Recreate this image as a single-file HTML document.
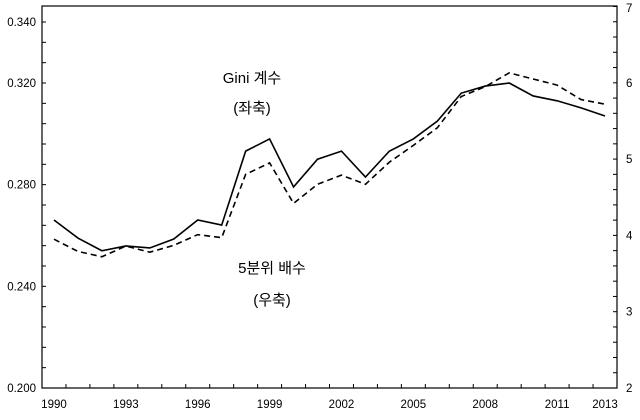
<!DOCTYPE html>
<html><head><meta charset="utf-8"><style>
body{margin:0;background:#fff}
svg text{font-family:"Liberation Sans","Noto Sans CJK KR",sans-serif;fill:#000}
</style></head><body>
<svg id="chart" width="640" height="415"></svg>
<script>
const years=[1990,1991,1992,1993,1994,1995,1996,1997,1998,1999,2000,2001,2002,2003,2004,2005,2006,2007,2008,2009,2010,2011,2012,2013];
const gini=[0.2661,0.259,0.254,0.2559,0.2551,0.2586,0.2661,0.2641,0.2932,0.298,0.2791,0.290,0.2932,0.283,0.2932,0.298,0.305,0.316,0.3188,0.320,0.3149,0.313,0.3102,0.307];
const quintile=[3.95,3.79,3.72,3.86,3.78,3.87,4.01,3.97,4.80,4.95,4.42,4.67,4.79,4.67,4.96,5.18,5.41,5.82,5.95,6.13,6.05,5.97,5.78,5.72];
const leftTicks=[0.200,0.240,0.280,0.320,0.344];
const leftLabels=["0.200","0.240","0.280","0.320","0.340"];
const rightTicks=[2,3,4,5,6,7];
const xLabelYears=[1990,1993,1996,1999,2002,2005,2008,2011,2013];

const svg=document.getElementById('chart');
const NS='http://www.w3.org/2000/svg';
const L=42,R=617,T=6,B=388;
const step=(R-L)/years.length;
const x=i=>L+step*(i+0.5);
const yL=v=>B-(v-0.2)*2541.7;
const yR=v=>B-(v-2)*76.3;
function mk(tag,attrs,parent){const e=document.createElementNS(NS,tag);for(const k in attrs)e.setAttribute(k,attrs[k]);(parent||svg).appendChild(e);return e;}

const frame=mk('rect',{x:L,y:T,width:R-L,height:B-T,fill:'none',stroke:'#000','stroke-width':1.2});



// left minor ticks every 0.008
for(let v=0.2;v<=0.345;v+=0.008){const t=mk('line',{x1:L,x2:L+4,y1:yL(v),y2:yL(v),stroke:'#000'});

}
leftTicks.forEach((v,i)=>{const t=mk('text',{x:L-6,y:yL(v)+4,'text-anchor':'end','font-size':11.5});t.textContent=leftLabels[i];

});
// right ticks every 0.2
for(let v=2;v<=7.01;v+=0.2){const t=mk('line',{x1:R-4,x2:R,y1:yR(v),y2:yR(v),stroke:'#000'});

}
rightTicks.forEach(v=>{const t=mk('text',{x:R+9,y:Math.max(yR(v)+4,12),'font-size':11.5});t.textContent=v;

});
// x ticks
for(let i=1;i<years.length;i++){const t=mk('line',{x1:L+step*i,x2:L+step*i,y1:B,y2:B-4,stroke:'#000'});

}
xLabelYears.forEach(yr=>{const i=years.indexOf(yr);const t=mk('text',{x:x(i),y:B+20,'text-anchor':'middle','font-size':11.5});t.textContent=yr;

});

const p1=mk('polyline',{points:gini.map((v,i)=>x(i)+','+yL(v)).join(' '),fill:'none',stroke:'#000','stroke-width':1.6});


const p2=mk('polyline',{points:quintile.map((v,i)=>x(i)+','+yR(v)).join(' '),fill:'none',stroke:'#000','stroke-width':1.6,'stroke-dasharray':'6,4'});



[['Gini 계수',252,83,'gini-annotation'],['(좌축)',252,113,'gini-axis-note'],['5분위 배수',272,273,'quintile-annotation'],['(우축)',272,305,'quintile-axis-note']].forEach(a=>{
const t=mk('text',{x:a[1],y:a[2],'text-anchor':'middle','font-size':15});t.textContent=a[0];

});
</script>
</body></html>
